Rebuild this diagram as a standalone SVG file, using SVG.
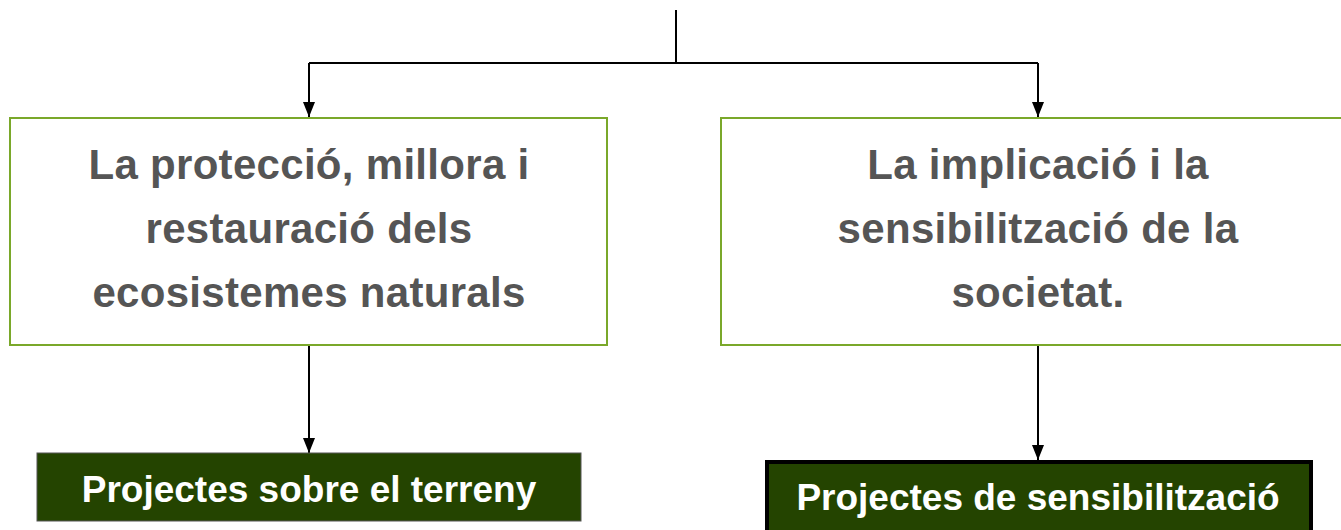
<svg xmlns="http://www.w3.org/2000/svg" width="1341" height="530" viewBox="0 0 1341 530">
<style>
.box{fill:#ffffff;stroke:#7aa82a;stroke-width:2}
.t{font-family:"Liberation Sans",Arial,sans-serif;font-weight:bold;font-size:42px;fill:#555555;text-anchor:middle;letter-spacing:0.3px}
.dark{fill:#244400}
.w{font-family:"Liberation Sans",Arial,sans-serif;font-weight:bold;font-size:37px;fill:#ffffff;text-anchor:middle}
.ln{fill:none;stroke:#000000;stroke-width:2}
</style>
<defs>
<marker id="ah" viewBox="0 0 15 12" refX="15" refY="6" markerWidth="15" markerHeight="12" markerUnits="userSpaceOnUse" orient="auto">
<path d="M0,0 L15,6 L0,12 Z" fill="#000"/>
</marker>
</defs>
<g id="connectors">
<path class="ln" d="M676,10 V63"/>
<path class="ln" d="M309,63 H1038"/>
<path class="ln" d="M309,63 V117" marker-end="url(#ah)"/>
<path class="ln" d="M1038,63 V117" marker-end="url(#ah)"/>
<path class="ln" d="M309,345 V453" marker-end="url(#ah)"/>
<path class="ln" d="M1038,345 V460" marker-end="url(#ah)"/>
</g>
<g id="node-protection">
<rect class="box" x="10" y="118" width="597" height="227"/>
<text class="t" x="309" y="179">La protecció, millora i</text>
<text class="t" x="309" y="243">restauració dels</text>
<text class="t" x="309" y="307">ecosistemes naturals</text>
</g>
<g id="node-implication">
<rect class="box" x="721" y="118" width="630" height="227"/>
<text class="t" x="1038" y="179">La implicació i la</text>
<text class="t" x="1038" y="243">sensibilització de la</text>
<text class="t" x="1038" y="307">societat.</text>
</g>
<g id="node-terreny">
<rect class="dark" x="37" y="453" width="544" height="68" stroke="#555" stroke-width="1"/>
<text class="w" x="309" y="502">Projectes sobre el terreny</text>
</g>
<g id="node-sensibilitzacio">
<rect class="dark" x="767" y="462" width="544" height="70" stroke="#000" stroke-width="4"/>
<text class="w" x="1038" y="510">Projectes de sensibilització</text>
</g>
</svg>
